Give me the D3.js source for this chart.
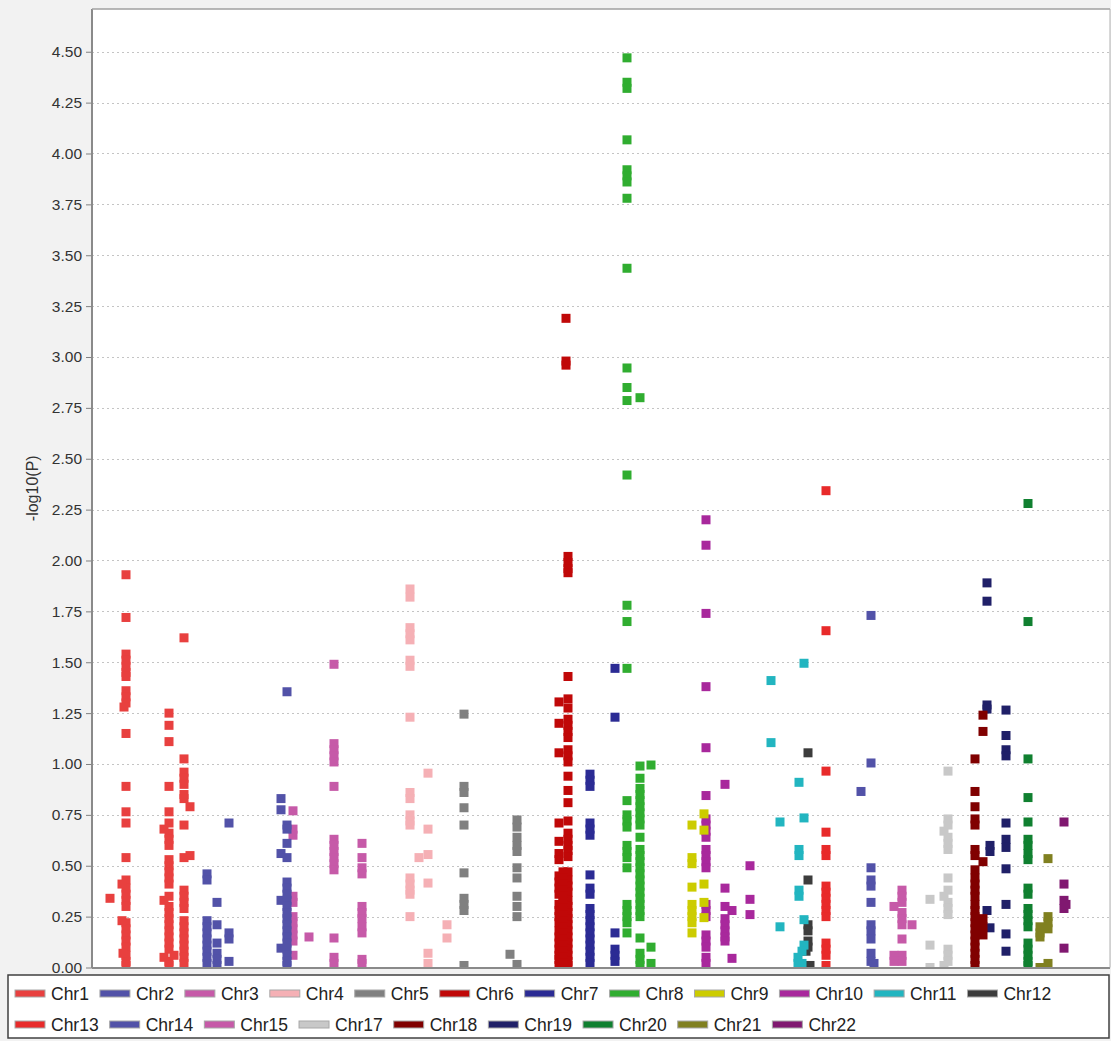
<!DOCTYPE html>
<html>
<head>
<meta charset="utf-8">
<script src="https://cdn.jsdelivr.net/npm/d3@7"></script>
<style>
  html, body { margin: 0; padding: 0; background: #f2f2f2; }
  svg { display: block; }
  text { font-family: "Liberation Sans", Arial, sans-serif; }
</style>
</head>
<body>
<svg id="chart" width="1111" height="1041"></svg>
<script>
// Chromosome names and their series colours
const chromosomes = ["Chr1", "Chr2", "Chr3", "Chr4", "Chr5", "Chr6", "Chr7", "Chr8", "Chr9", "Chr10", "Chr11", "Chr12",
                     "Chr13", "Chr14", "Chr15", "Chr17", "Chr18", "Chr19", "Chr20", "Chr21", "Chr22"];
const colors = ["#e8403f", "#5252a8", "#c65aa8", "#f5b0b5", "#808080", "#c00808", "#2b2b94", "#30ad30", "#cccc00", "#a8289c", "#22b5c0", "#3c3c3c",
                "#e82a2a", "#5252a8", "#c65aa8", "#c8c8c8", "#800000", "#202068", "#108030", "#808020", "#801870"];

// Each entry: [cumulative genome position (Mb), [-log10(P) of the markers at that position]]
const chr1 = [
  [54, [0.34]],
  [102, [1.93, 1.72, 1.54, 1.51, 1.48, 1.45, 1.43, 1.36, 1.33, 1.30, 1.15, 0.89, 0.765, 0.71, 0.54, 0.43, 0.39, 0.36, 0.33, 0.30,
         0.22, 0.19, 0.16, 0.13, 0.10, 0.06, 0.03, 0.01]],
  [96, [1.28]],
  [90, [0.41, 0.23]],
  [93, [0.07]],
  [231, [1.25, 1.19, 1.11, 0.89, 0.765, 0.71, 0.66, 0.63, 0.60, 0.53, 0.50, 0.47, 0.44, 0.41, 0.35, 0.30, 0.27, 0.24, 0.21, 0.18,
         0.15, 0.12, 0.09, 0.03, 0.01]],
  [216, [0.68, 0.33, 0.05]],
  [246, [0.06]],
  [276, [1.62, 1.025, 0.96, 0.93, 0.90, 0.85, 0.83, 0.70, 0.54, 0.38, 0.35, 0.32, 0.29, 0.23, 0.20, 0.17, 0.14, 0.11, 0.08, 0.05, 0.02]],
  [294, [0.79, 0.55]]
];
const chr2 = [
  [345, [0.46, 0.43, 0.23, 0.20, 0.17, 0.14, 0.11, 0.08, 0.05, 0.02]],
  [375, [0.32, 0.21, 0.12, 0.07, 0.04, 0.01]],
  [411, [0.71, 0.17, 0.14, 0.03]],
  [567, [0.83, 0.775, 0.56, 0.33, 0.095]],
  [585, [1.355, 0.70, 0.68, 0.61, 0.54, 0.42, 0.39, 0.36, 0.33, 0.30, 0.27, 0.24, 0.21, 0.18, 0.15, 0.12, 0.09, 0.06, 0.03, 0.01]]
];
const chr3 = [
  [603, [0.77, 0.68, 0.65, 0.35, 0.32, 0.25, 0.22, 0.19, 0.16, 0.13, 0.06]],
  [651, [0.15]],
  [726, [1.49, 1.10, 1.07, 1.04, 1.01, 0.89, 0.63, 0.60, 0.57, 0.54, 0.51, 0.48, 0.145, 0.05, 0.02]],
  [810, [0.61, 0.54, 0.49, 0.46, 0.30, 0.27, 0.24, 0.20, 0.17, 0.04, 0.02]]
];
const chr4 = [
  [954, [1.86, 1.82, 1.67, 1.64, 1.61, 1.51, 1.48, 1.23, 0.86, 0.83, 0.75, 0.72, 0.70, 0.44, 0.41, 0.38, 0.36, 0.25]],
  [1008, [0.955, 0.68, 0.555, 0.415, 0.07, 0.02]],
  [981, [0.54]],
  [1065, [0.21, 0.145]]
];
const chr5 = [
  [1116, [1.245, 0.89, 0.86, 0.785, 0.70, 0.465, 0.34, 0.31, 0.28, 0.01]],
  [1275, [0.725, 0.69, 0.64, 0.60, 0.57, 0.49, 0.44, 0.35, 0.30, 0.25, 0.015]],
  [1254, [0.065]]
];
const chr6 = [
  [1422, [3.19, 2.98, 2.96]],
  [1428, [2.02, 1.99, 1.96, 1.94, 1.43, 1.32, 1.275, 1.22, 1.19, 1.16, 1.13, 1.07, 1.04, 1.01, 0.94, 0.87, 0.81, 0.72, 0.66, 0.63,
          0.60, 0.575, 0.545, 0.47, 0.43, 0.40, 0.37, 0.33, 0.30, 0.27, 0.24, 0.21, 0.18, 0.15, 0.12, 0.09, 0.06, 0.03, 0.01]],
  [1401, [1.305, 1.20, 1.055, 0.71, 0.62, 0.56, 0.53, 0.45, 0.42, 0.39, 0.36, 0.31, 0.28, 0.25, 0.22, 0.18, 0.15, 0.12, 0.09,
          0.06, 0.04, 0.01]],
  [1413, [0.47, 0.44, 0.41, 0.38, 0.35, 0.32, 0.29, 0.26, 0.23, 0.20, 0.17, 0.14, 0.11, 0.08, 0.05, 0.02]]
];
const chr7 = [
  [1494, [0.95, 0.92, 0.89, 0.71, 0.68, 0.65, 0.455, 0.39, 0.36, 0.29, 0.26, 0.23, 0.20, 0.17, 0.14, 0.11, 0.08, 0.05, 0.02]],
  [1569, [1.47, 1.23, 0.17, 0.09, 0.06, 0.03]]
];
const chr8 = [
  [1605, [4.47, 4.35, 4.32, 4.067, 3.92, 3.89, 3.86, 3.78, 3.436, 2.946, 2.85, 2.786, 2.42, 1.78, 1.70, 1.47, 0.82, 0.75, 0.72, 0.69,
          0.60, 0.57, 0.54, 0.49, 0.31, 0.28, 0.25, 0.22, 0.17]],
  [1644, [2.80, 0.99, 0.93, 0.88, 0.85, 0.82, 0.79, 0.76, 0.73, 0.70, 0.64, 0.58, 0.55, 0.52, 0.49, 0.46, 0.43, 0.40, 0.37, 0.34,
          0.31, 0.28, 0.25, 0.145, 0.07, 0.04, 0.01]],
  [1677, [0.995, 0.10, 0.02]]
];
const chr9 = [
  [1800, [0.70, 0.54, 0.51, 0.395, 0.31, 0.28, 0.25, 0.22, 0.17]],
  [1836, [0.755, 0.675, 0.41, 0.32, 0.245]]
];
const chr10 = [
  [1842, [2.20, 2.075, 1.74, 1.38, 1.08, 0.845, 0.73, 0.70, 0.67, 0.64, 0.58, 0.55, 0.52, 0.49, 0.31, 0.28, 0.25, 0.16, 0.13, 0.10, 0.05, 0.02]],
  [1899, [0.90, 0.39, 0.30, 0.24, 0.21, 0.18, 0.15, 0.13]],
  [1920, [0.28, 0.045]],
  [1974, [0.50, 0.335, 0.26]]
];
const chr11 = [
  [2037, [1.41, 1.105]],
  [2064, [0.715, 0.20]],
  [2136, [1.495, 0.735, 0.235, 0.11]],
  [2121, [0.91, 0.58, 0.55, 0.38, 0.35]],
  [2130, [0.08, 0.02]],
  [2118, [0.05, 0.02]]
];
const chr12 = [
  [2148, [1.055, 0.43, 0.21, 0.18, 0.13, 0.10]],
  [2142, [0.08]],
  [2154, [0.01]]
];
const chr13 = [
  [2202, [2.343, 1.655, 0.965, 0.665, 0.58, 0.55, 0.40, 0.37, 0.34, 0.31, 0.28, 0.25, 0.12, 0.09, 0.06, 0.01]]
];
const chr14 = [
  [2337, [1.73, 1.005, 0.49, 0.43, 0.40, 0.32, 0.21, 0.18, 0.14, 0.07, 0.03]],
  [2307, [0.865]],
  [2346, [0.02]]
];
const chr15 = [
  [2430, [0.38, 0.35, 0.32, 0.27, 0.24, 0.21, 0.14, 0.06, 0.03]],
  [2406, [0.30, 0.06, 0.03]],
  [2460, [0.21]]
];
const chr17 = [
  [2514, [0.335, 0.11, 0.00]],
  [2568, [0.965, 0.73, 0.70, 0.64, 0.61, 0.58, 0.44, 0.38, 0.32, 0.29, 0.26, 0.09, 0.06, 0.03]],
  [2556, [0.67, 0.35, 0.01]]
];
const chr18 = [
  [2649, [1.025, 0.865, 0.79, 0.73, 0.70, 0.58, 0.55, 0.48, 0.44, 0.41, 0.38, 0.35, 0.31, 0.28, 0.25, 0.22, 0.19, 0.16, 0.13, 0.10, 0.07, 0.04, 0.01]],
  [2673, [1.24, 1.16, 0.52, 0.24, 0.20, 0.16]]
];
const chr19 = [
  [2685, [1.89, 1.80, 1.29, 1.27, 0.28]],
  [2694, [0.60, 0.57, 0.195]],
  [2742, [1.265, 1.14, 1.07, 1.04, 0.71, 0.63, 0.59, 0.485, 0.31, 0.165, 0.08]]
];
const chr20 = [
  [2808, [2.28, 1.70, 1.025, 0.835, 0.715, 0.63, 0.60, 0.56, 0.53, 0.39, 0.36, 0.29, 0.26, 0.23, 0.20, 0.12, 0.09, 0.06, 0.03, 0.01]]
];
const chr21 = [
  [2868, [0.535, 0.25, 0.22, 0.19, 0.02]],
  [2844, [0.20, 0.17, 0.15, 0.00]]
];
const chr22 = [
  [2916, [0.715, 0.41, 0.33, 0.29, 0.095]],
  [2922, [0.31]]
];
const seriesData = [chr1, chr2, chr3, chr4, chr5, chr6, chr7, chr8, chr9, chr10, chr11, chr12,
                    chr13, chr14, chr15, chr17, chr18, chr19, chr20, chr21, chr22];

// Y axis ticks
const yTicks = d3.range(0, 4.51, 0.25);
const yLabel = "-log10(P)";

// ---- Layout ----
const W = 1111, H = 1041;
const plot = { left: 92, right: 1110, top: 9, bottom: 967.5 };
const markerSize = 9;

const svg = d3.select("#chart");
svg.append("rect").attr("width", W).attr("height", H).attr("fill", "#f2f2f2");

const x = d3.scaleLinear().domain([0, 3054]).range([plot.left, plot.right]);
const y = d3.scaleLinear().domain([0, 4.71]).range([plot.bottom, plot.top]);

// Plot background
svg.append("rect")
  .attr("x", plot.left).attr("y", plot.top)
  .attr("width", plot.right - plot.left).attr("height", plot.bottom - plot.top)
  .attr("fill", "#ffffff");

// Horizontal dotted gridlines
svg.append("g")
  .selectAll("line")
  .data(yTicks.filter(t => t > 0))
  .join("line")
  .attr("x1", plot.left).attr("x2", plot.right)
  .attr("y1", d => Math.round(y(d)) + 0.5).attr("y2", d => Math.round(y(d)) + 0.5)
  .attr("stroke", "#c4c4c4").attr("stroke-width", 1)
  .attr("stroke-dasharray", "2,3");

// Markers: later chromosomes are drawn first so Chr1 sits on top
const markers = svg.append("g");
for (let i = seriesData.length - 1; i >= 0; i--) {
  const pts = [];
  seriesData[i].forEach(([pos, vals]) => vals.forEach(v => pts.push([pos, v])));
  markers.append("g")
    .selectAll("rect")
    .data(pts)
    .join("rect")
    .attr("x", d => x(d[0]) - markerSize / 2)
    .attr("y", d => y(d[1]) - markerSize / 2)
    .attr("width", markerSize)
    .attr("height", markerSize)
    .attr("fill", colors[i]);
}

// Clip marker overflow below the axis
svg.append("rect")
  .attr("x", plot.left - 10).attr("y", plot.bottom + 1)
  .attr("width", plot.right - plot.left + 20).attr("height", 6)
  .attr("fill", "#f2f2f2");

// Y axis
const yAxis = d3.axisLeft(y)
  .tickValues(yTicks)
  .tickFormat(d3.format(".2f"))
  .tickSize(5)
  .tickPadding(4);
const gy = svg.append("g").attr("transform", `translate(${plot.left - 1},0)`).call(yAxis);
gy.select(".domain").remove();
gy.selectAll(".tick line").attr("stroke", "#808080");
gy.selectAll(".tick text")
  .attr("font-size", 15.5)
  .attr("fill", "#333333")
  .attr("font-family", "'Liberation Sans', Arial, sans-serif");

// Plot frame
const frame = svg.append("g").attr("fill", "none").attr("stroke", "#8a8a8a").attr("stroke-width", 2);
frame.append("line").attr("x1", plot.left).attr("x2", plot.left).attr("y1", plot.top).attr("y2", plot.bottom + 1);
frame.append("line").attr("x1", plot.left).attr("x2", plot.right).attr("y1", plot.bottom + 0.5).attr("y2", plot.bottom + 0.5);
frame.append("line").attr("x1", plot.left).attr("x2", plot.right).attr("y1", plot.top).attr("y2", plot.top)
  .attr("stroke", "#a0a0a0").attr("stroke-width", 1.5);
frame.append("line").attr("x1", plot.right).attr("x2", plot.right).attr("y1", plot.top).attr("y2", plot.bottom)
  .attr("stroke", "#b0b0b0").attr("stroke-width", 1);

// Y axis title
svg.append("text")
  .attr("transform", `translate(38,${(plot.top + plot.bottom) / 2}) rotate(-90)`)
  .attr("text-anchor", "middle")
  .attr("font-size", 16)
  .attr("fill", "#333333")
  .text(yLabel);

// Legend
const legend = { x: 8, y: 975, w: 1101, h: 63 };
svg.append("rect")
  .attr("x", legend.x).attr("y", legend.y)
  .attr("width", legend.w).attr("height", legend.h)
  .attr("fill", "#ffffff").attr("stroke", "#404040").attr("stroke-width", 1.5);

const rows = [chromosomes.slice(0, 12), chromosomes.slice(12)];
const rowY = [993.5, 1024.5];
rows.forEach((names, r) => {
  let cx = 15;
  names.forEach(name => {
    const idx = chromosomes.indexOf(name);
    const g = svg.append("g");
    g.append("rect")
      .attr("x", cx).attr("y", rowY[r] - 3.5)
      .attr("width", 30).attr("height", 7)
      .attr("fill", colors[idx])
      .attr("stroke", "#a8a8a8").attr("stroke-width", 1);
    const t = g.append("text")
      .attr("x", cx + 36).attr("y", rowY[r])
      .attr("dy", "0.36em")
      .attr("font-size", 17.5)
      .attr("fill", "#222222")
      .text(name);
    cx += 36 + t.node().getComputedTextLength() + 11;
  });
});
</script>
</body>
</html>
